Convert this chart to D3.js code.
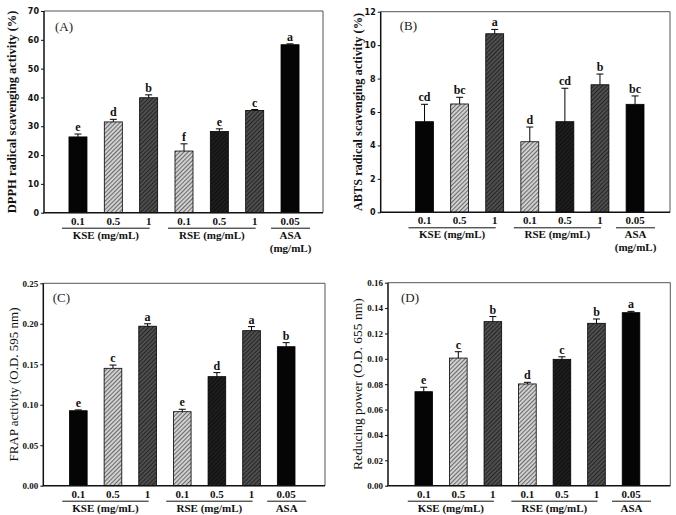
<!DOCTYPE html>
<html>
<head>
<meta charset="utf-8">
<script src="https://cdn.jsdelivr.net/npm/d3@7/dist/d3.min.js"></script>
<style>
  html, body { margin: 0; padding: 0; background: #fff; }
  svg { display: block; }
</style>
</head>
<body>
<svg id="chart" width="676" height="515"></svg>
<script>
// ---------------- DATA ----------------
const categories = ["0.1", "0.5", "1", "0.1", "0.5", "1", "0.05"];
const groupOfBar = [0, 0, 0, 1, 1, 1, 2];
const groupLabelsTop = [["KSE (mg/mL)"], ["RSE (mg/mL)"], ["ASA", "(mg/mL)"]];
const groupLabelsBottom = [["KSE (mg/mL)"], ["RSE (mg/mL)"], ["ASA"]];

const dpphValues = [26.3, 31.5, 39.9, 21.4, 28.2, 35.5, 58.3];
const dpphErrors = [1.0, 0.9, 1.0, 2.5, 0.9, 0.3, 0.3];
const dpphLetters = ["e", "d", "b", "f", "e", "c", "a"];
const dpphTicks = [0, 10, 20, 30, 40, 50, 60, 70];

const abtsValues = [5.42, 6.48, 10.68, 4.22, 5.42, 7.63, 6.46];
const abtsErrors = [1.04, 0.40, 0.26, 0.88, 2.0, 0.64, 0.5];
const abtsLetters = ["cd", "bc", "a", "d", "cd", "b", "bc"];
const abtsTicks = [0, 2, 4, 6, 8, 10, 12];

const frapValues = [0.0926, 0.145, 0.197, 0.0914, 0.1347, 0.1915, 0.1717];
const frapErrors = [0.001, 0.004, 0.003, 0.003, 0.005, 0.005, 0.005];
const frapLetters = ["e", "c", "a", "e", "d", "a", "b"];
const frapTicks = [0, 0.05, 0.10, 0.15, 0.20, 0.25];

const rpValues = [0.0741, 0.1006, 0.1293, 0.0802, 0.0996, 0.128, 0.1364];
const rpErrors = [0.0035, 0.005, 0.004, 0.0013, 0.002, 0.0034, 0.001];
const rpLetters = ["e", "c", "b", "d", "c", "b", "a"];
const rpTicks = [0, 0.02, 0.04, 0.06, 0.08, 0.10, 0.12, 0.14, 0.16];

// ---------------- STYLE / LAYOUT ----------------
const barFills = ["url(#solidBlack)", "url(#hatchLight)", "url(#hatchDark)", "url(#hatchLight)",
                  "url(#hatchDarkest)", "url(#hatchDark)", "url(#solidBlack)"];

const panels = [
  { tag: "(A)", values: dpphValues, errors: dpphErrors, letters: dpphLetters, ticks: dpphTicks,
    fmt: d3.format("d"), tickFont: "'DejaVu Sans', sans-serif", tickSize: 8,
    ylabel: "DPPH radical scavenging activity (%)", ylabelWeight: "bold", ylabelSize: 12.5,
    frame: { l: 44, r: 323, t: 11, b: 212.7 }, xr: [60.3, 307.7], ylabelX: 12, tagPos: [55, 31],
    groupLabels: groupLabelsTop },
  { tag: "(B)", values: abtsValues, errors: abtsErrors, letters: abtsLetters, ticks: abtsTicks,
    fmt: d3.format("d"), tickFont: "'DejaVu Sans', sans-serif", tickSize: 8,
    ylabel: "ABTS radical scavenging activity (%)", ylabelWeight: "bold", ylabelSize: 12.3,
    frame: { l: 380.7, r: 670, t: 11.7, b: 212.3 }, xr: [407, 652.6], ylabelX: 358, tagPos: [399.7, 30],
    groupLabels: groupLabelsTop },
  { tag: "(C)", values: frapValues, errors: frapErrors, letters: frapLetters, ticks: frapTicks,
    fmt: d3.format(".2f"), tickFont: "'Liberation Serif', serif", tickSize: 9,
    ylabel: "FRAP activity (O.D. 595 nm)", ylabelWeight: "normal", ylabelSize: 13,
    frame: { l: 43.3, r: 325, t: 283.3, b: 485.7 }, xr: [61, 303.5], ylabelX: 13, tagPos: [52.7, 302],
    groupLabels: groupLabelsBottom },
  { tag: "(D)", values: rpValues, errors: rpErrors, letters: rpLetters, ticks: rpTicks,
    fmt: d3.format(".2f"), tickFont: "'Liberation Serif', serif", tickSize: 9,
    ylabel: "Reducing power (O.D. 655 nm)", ylabelWeight: "normal", ylabelSize: 13.5,
    frame: { l: 388, r: 670.3, t: 282.7, b: 485.7 }, xr: [406.5, 648.3], ylabelX: 357, tagPos: [401, 302],
    groupLabels: groupLabelsBottom }
];

const serif = "'Liberation Serif', 'Times New Roman', serif";
const svg = d3.select("#chart");

// ---------------- PATTERNS ----------------
const defs = svg.append("defs");
function hatch(id, bg, line, w, gap) {
  const p = defs.append("pattern").attr("id", id).attr("patternUnits", "userSpaceOnUse")
    .attr("width", gap).attr("height", gap).attr("patternTransform", "rotate(45)");
  p.append("rect").attr("width", gap).attr("height", gap).attr("fill", bg);
  p.append("line").attr("x1", 0.5).attr("y1", 0).attr("x2", 0.5).attr("y2", gap)
    .attr("stroke", line).attr("stroke-width", w);
}
defs.append("pattern").attr("id", "solidBlack").attr("patternUnits", "userSpaceOnUse")
  .attr("width", 4).attr("height", 4)
  .append("rect").attr("width", 4).attr("height", 4).attr("fill", "#050505");
hatch("hatchLight", "#d2d2d2", "#6a6a6a", 1.1, 3);
hatch("hatchDark", "#505050", "#262626", 1.2, 3);
hatch("hatchDarkest", "#1e1e1e", "#101010", 1.2, 3);

// ---------------- DRAW ----------------
panels.forEach(P => {
  const f = P.frame;
  const g = svg.append("g");
  const x = d3.scaleBand().domain(d3.range(categories.length)).range(P.xr)
    .paddingInner(0.49).paddingOuter(0.245);
  const y = d3.scaleLinear().domain([P.ticks[0], P.ticks[P.ticks.length - 1]]).range([f.b, f.t]);

  // y axis
  const ax = g.append("g").attr("transform", `translate(${f.l},0)`)
    .call(d3.axisLeft(y).tickValues(P.ticks).tickFormat(P.fmt).tickSize(3).tickPadding(2));
  ax.select(".domain").remove();
  ax.selectAll(".tick line").attr("stroke", "#111").attr("stroke-width", 1);
  ax.selectAll(".tick text").attr("font-family", P.tickFont).attr("font-weight", "bold")
    .attr("font-size", P.tickSize).attr("fill", "#111");

  // bars
  g.selectAll("rect.bar").data(P.values).join("rect").attr("class", "bar")
    .attr("x", (d, i) => x(i)).attr("width", x.bandwidth())
    .attr("y", d => y(d)).attr("height", d => y(0) - y(d))
    .attr("fill", (d, i) => barFills[i]).attr("stroke", "#000").attr("stroke-width", 0.8);

  // error bars (upper only)
  const cap = 3.5;
  P.values.forEach((v, i) => {
    const cx = x(i) + x.bandwidth() / 2;
    const top = y(v + P.errors[i]);
    g.append("line").attr("x1", cx).attr("x2", cx).attr("y1", y(v)).attr("y2", top)
      .attr("stroke", "#000").attr("stroke-width", 1);
    g.append("line").attr("x1", cx - cap).attr("x2", cx + cap).attr("y1", top).attr("y2", top)
      .attr("stroke", "#000").attr("stroke-width", 1);
    g.append("text").attr("x", cx).attr("y", top - 3).attr("text-anchor", "middle")
      .attr("font-family", serif).attr("font-weight", "bold").attr("font-size", 12)
      .attr("fill", "#111").text(P.letters[i]);
  });

  // frame
  g.append("line").attr("x1", f.l).attr("x2", f.r).attr("y1", f.t).attr("y2", f.t).attr("stroke", "#555").attr("stroke-width", 1);
  g.append("line").attr("x1", f.r).attr("x2", f.r).attr("y1", f.t).attr("y2", f.b).attr("stroke", "#555").attr("stroke-width", 1);
  g.append("line").attr("x1", f.l).attr("x2", f.l).attr("y1", f.t).attr("y2", f.b).attr("stroke", "#111").attr("stroke-width", 1.5);
  g.append("line").attr("x1", f.l - 0.75).attr("x2", f.r).attr("y1", f.b).attr("y2", f.b).attr("stroke", "#111").attr("stroke-width", 1.5);

  // x category labels
  categories.forEach((c, i) => {
    g.append("text").attr("x", x(i) + x.bandwidth() / 2).attr("y", f.b + 12)
      .attr("text-anchor", "middle").attr("font-family", serif).attr("font-weight", "bold")
      .attr("font-size", 11).attr("fill", "#111").text(c);
  });

  // group underlines and labels
  P.groupLabels.forEach((lines, gi) => {
    const idx = d3.range(categories.length).filter(i => groupOfBar[i] === gi);
    const c0 = x(idx[0]) + x.bandwidth() / 2, c1 = x(idx[idx.length - 1]) + x.bandwidth() / 2;
    const single = idx.length === 1;
    const x0 = single ? c0 - 19 : c0 - 16, x1 = single ? c1 + 20 : c1 + 1;
    g.append("line").attr("x1", x0).attr("x2", x1).attr("y1", f.b + 15.5).attr("y2", f.b + 15.5)
      .attr("stroke", "#111").attr("stroke-width", 1);
    lines.forEach((t, li) => {
      g.append("text").attr("x", (x0 + x1) / 2).attr("y", f.b + 26 + li * 13)
        .attr("text-anchor", "middle").attr("font-family", serif).attr("font-weight", "bold")
        .attr("font-size", 11).attr("fill", "#111").text(t);
    });
  });

  // y label
  const my = (f.t + f.b) / 2;
  g.append("text").attr("transform", `translate(${P.ylabelX},${my}) rotate(-90)`)
    .attr("text-anchor", "middle").attr("dy", "0.35em").attr("font-family", serif)
    .attr("font-weight", P.ylabelWeight).attr("font-size", P.ylabelSize).attr("fill", "#111")
    .text(P.ylabel);

  // panel tag
  g.append("text").attr("x", P.tagPos[0]).attr("y", P.tagPos[1]).attr("font-family", serif)
    .attr("font-size", 13).attr("fill", "#222").text(P.tag);
});
</script>
</body>
</html>
